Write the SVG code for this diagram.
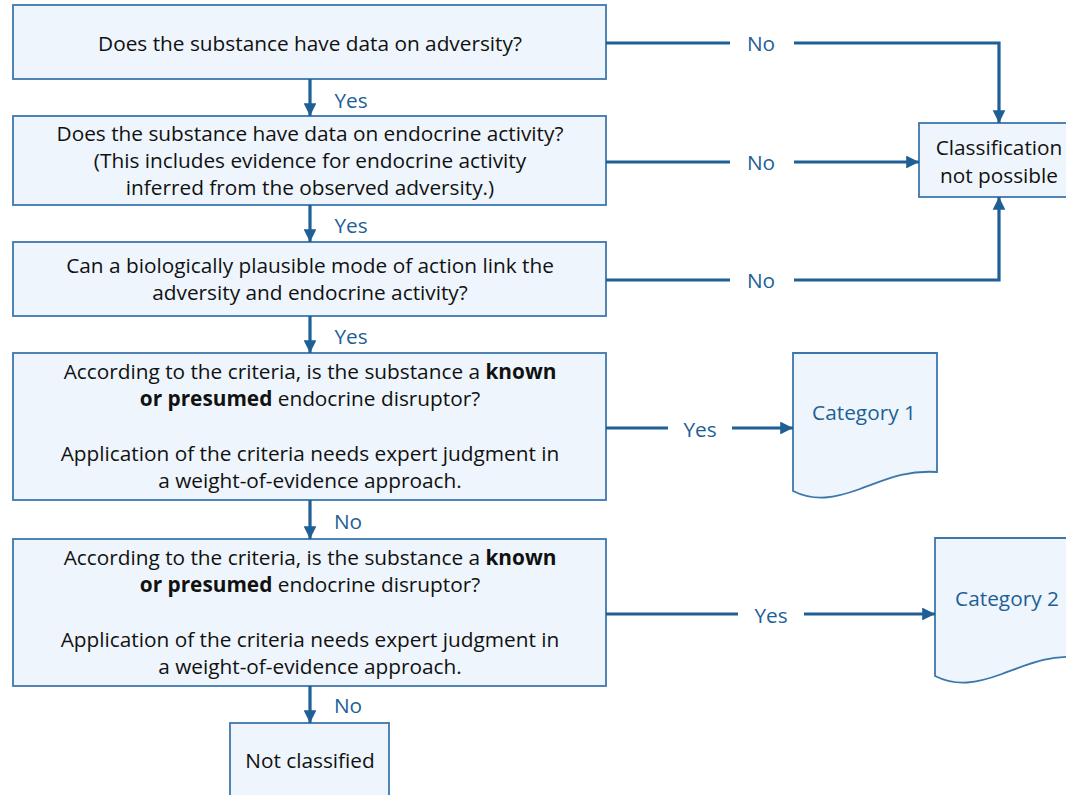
<svg xmlns="http://www.w3.org/2000/svg" width="1066" height="795" viewBox="0 0 1066 795">
<defs>
<marker id="ah" viewBox="0 0 10 10" refX="10" refY="5" markerWidth="4" markerHeight="4" markerUnits="strokeWidth" orient="auto">
<path d="M0,0 L10,5 L0,10 Z" fill="#1E5F96"/>
</marker>
<style>
.box{fill:#EEF5FC;stroke:#3C77AC;stroke-width:1.8}
.t{font-family:"Open Sans","Liberation Sans",sans-serif;font-size:20.8px;fill:#111;text-anchor:middle}
.lbl{font-family:"Open Sans","Liberation Sans",sans-serif;font-size:20.8px;fill:#1E5F96;text-anchor:middle}
.c{fill:none;stroke:#1E5F96;stroke-width:3.2}
.ca{fill:none;stroke:#1E5F96;stroke-width:3.2;marker-end:url(#ah)}
</style>
</defs>
<rect width="1066" height="795" fill="#fff"/>

<g id="q1">
<rect class="box" x="13" y="5" width="593" height="74"/>
<text class="t" x="310" y="51">Does the substance have data on adversity?</text>
</g>
<g id="q2">
<rect class="box" x="13" y="116" width="593" height="89"/>
<text class="t" x="310" y="141">Does the substance have data on endocrine activity?</text>
<text class="t" x="310" y="168">(This includes evidence for endocrine activity</text>
<text class="t" x="310" y="195">inferred from the observed adversity.)</text>
</g>
<g id="q3">
<rect class="box" x="13" y="242" width="593" height="74"/>
<text class="t" x="310" y="273">Can a biologically plausible mode of action link the</text>
<text class="t" x="310" y="300">adversity and endocrine activity?</text>
</g>
<g id="q4">
<rect class="box" x="13" y="353" width="593" height="147"/>
<text class="t" x="310" y="379">According to the criteria, is the substance a <tspan font-weight="bold">known</tspan></text>
<text class="t" x="310" y="406"><tspan font-weight="bold">or presumed</tspan> endocrine disruptor?</text>
<text class="t" x="310" y="461">Application of the criteria needs expert judgment in</text>
<text class="t" x="310" y="488">a weight-of-evidence approach.</text>
</g>
<g id="q5">
<rect class="box" x="13" y="539" width="593" height="147"/>
<text class="t" x="310" y="565">According to the criteria, is the substance a <tspan font-weight="bold">known</tspan></text>
<text class="t" x="310" y="592"><tspan font-weight="bold">or presumed</tspan> endocrine disruptor?</text>
<text class="t" x="310" y="647">Application of the criteria needs expert judgment in</text>
<text class="t" x="310" y="674">a weight-of-evidence approach.</text>
</g>
<g id="notpossible">
<rect class="box" x="919" y="123" width="160" height="74"/>
<text class="t" x="999" y="155">Classification</text>
<text class="t" x="999" y="183">not possible</text>
</g>
<g id="cat1">
<path class="box" d="M793,353 H937 V472 C905,470 885,480 860,489 C835,498 815,502 793,491 Z"/>
<text class="lbl" x="864" y="420">Category 1</text>
</g>
<g id="cat2">
<path class="box" d="M935,538 H1079 V657 C1047,655 1027,665 1002,674 C977,683 957,687 935,676 Z"/>
<text class="lbl" x="1007" y="606">Category 2</text>
</g>
<g id="notclassified">
<rect class="box" x="230" y="723" width="159" height="80"/>
<text class="t" x="310" y="768">Not classified</text>
</g>

<g id="connectors">
<line class="ca" x1="310" y1="79" x2="310" y2="116"/>
<line class="ca" x1="310" y1="205" x2="310" y2="242"/>
<line class="ca" x1="310" y1="316" x2="310" y2="353"/>
<line class="ca" x1="310" y1="500" x2="310" y2="539"/>
<line class="ca" x1="310" y1="686" x2="310" y2="723"/>
<line class="c" x1="606" y1="43" x2="730" y2="43"/>
<polyline class="ca" points="794,43 999,43 999,123"/>
<line class="c" x1="606" y1="162" x2="730" y2="162"/>
<line class="ca" x1="794" y1="162" x2="919" y2="162"/>
<line class="c" x1="606" y1="280" x2="730" y2="280"/>
<polyline class="ca" points="794,280 999,280 999,197"/>
<line class="c" x1="606" y1="428" x2="668" y2="428"/>
<line class="ca" x1="732" y1="428" x2="793" y2="428"/>
<line class="c" x1="606" y1="614" x2="738" y2="614"/>
<line class="ca" x1="804" y1="614" x2="935" y2="614"/>
</g>
<g id="labels">
<text class="lbl" x="351" y="108">Yes</text>
<text class="lbl" x="351" y="233">Yes</text>
<text class="lbl" x="351" y="344">Yes</text>
<text class="lbl" x="348" y="529">No</text>
<text class="lbl" x="348" y="713">No</text>
<text class="lbl" x="761" y="51">No</text>
<text class="lbl" x="761" y="170">No</text>
<text class="lbl" x="761" y="288">No</text>
<text class="lbl" x="700" y="437">Yes</text>
<text class="lbl" x="771" y="623">Yes</text>
</g>
</svg>
